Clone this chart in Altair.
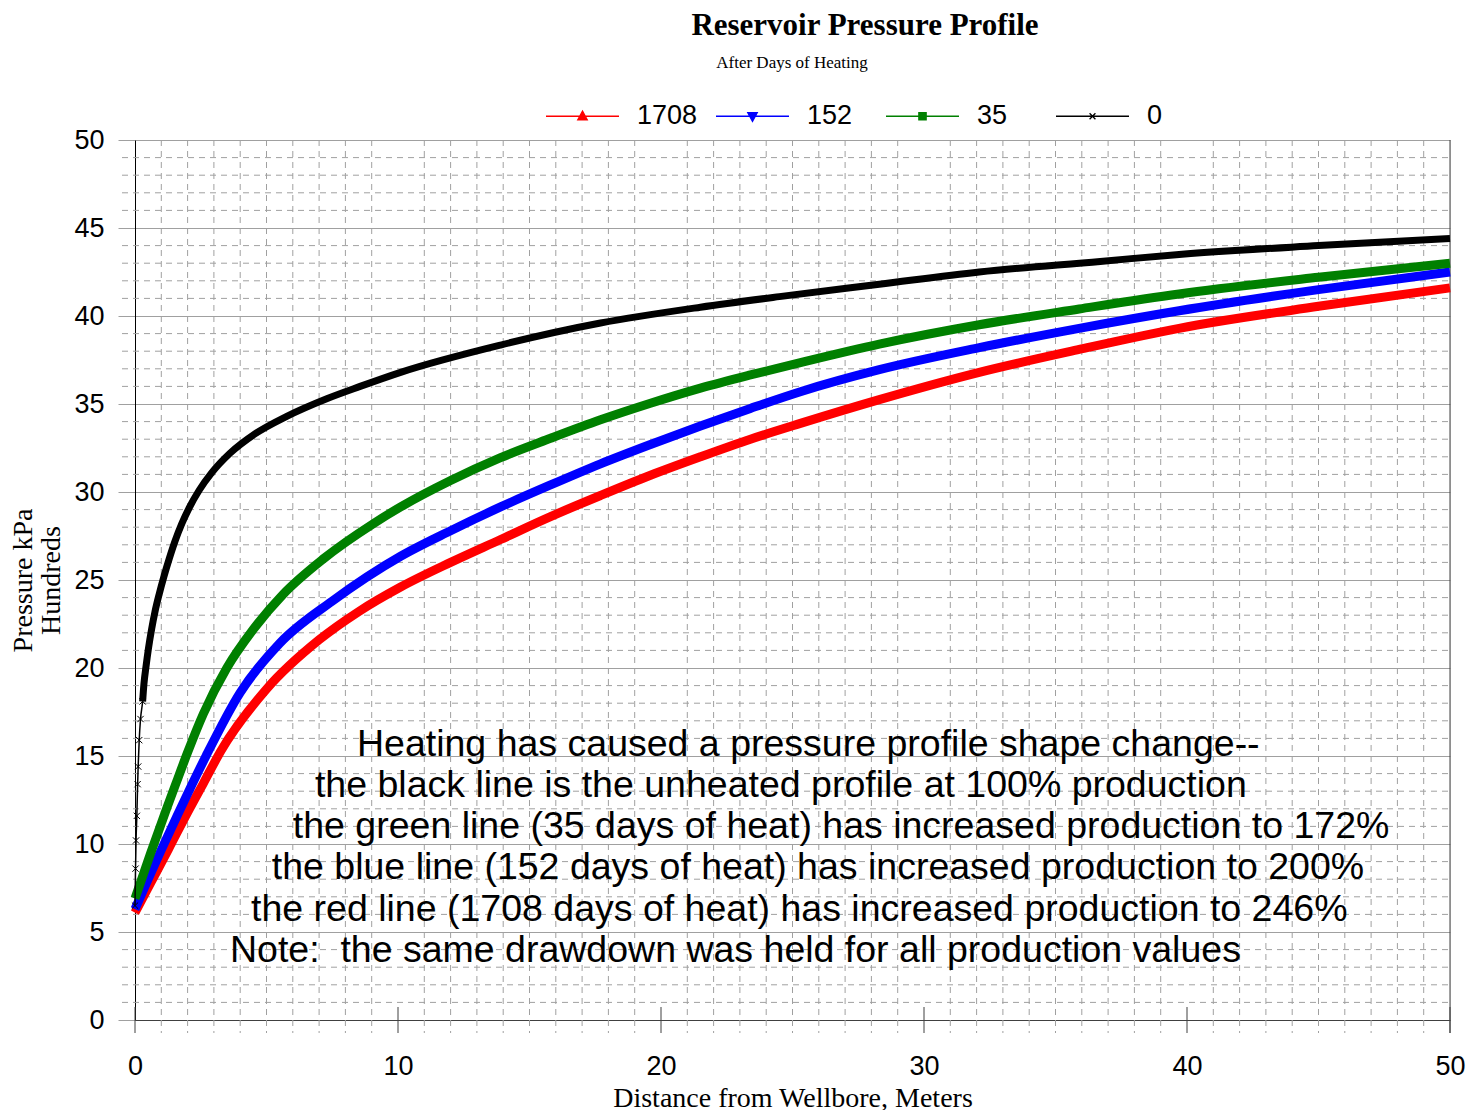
import altair as alt
import pandas as pd

# ---------------- data ----------------
series_names = ["1708", "152", "35", "0"]
series_colors = ["#ff0000", "#0000ff", "#008000", "#000000"]

red_x = [0.0, 0.6, 1.27, 2.0, 2.6, 3.27, 5.0, 7.0, 8.5, 10.1, 12.0, 13.9, 15.8, 17.7, 19.6, 21.5, 23.4, 25.3, 28.3, 32.1, 35.9, 39.7, 45.0, 50.0]
red_y = [6.1, 7.8, 9.7, 11.8, 13.45, 15.3, 18.8, 21.6, 23.2, 24.6, 26.0, 27.3, 28.6, 29.8, 30.95, 32.0, 33.0, 33.9, 35.25, 36.8, 38.1, 39.3, 40.55, 41.6]

blue_x = [0.0, 0.44, 1.01, 1.6, 2.19, 2.7, 4.0, 5.5, 7.5, 10.1, 12.0, 13.9, 15.8, 17.7, 19.6, 21.5, 23.4, 25.3, 28.3, 32.1, 35.9, 39.7, 45.0, 50.0]
blue_y = [6.3, 7.8, 9.7, 11.6, 13.45, 15.0, 18.6, 21.4, 23.8, 26.35, 27.8, 29.15, 30.4, 31.6, 32.7, 33.75, 34.75, 35.7, 36.95, 38.2, 39.3, 40.3, 41.5, 42.5]

green_x = [0.0, 0.6, 1.2, 1.56, 2.0, 2.6, 3.49, 4.5, 5.64, 7.16, 9.06, 10.1, 12.0, 13.9, 15.8, 17.7, 19.6, 21.5, 23.4, 25.3, 28.3, 32.1, 35.9, 39.7, 45.0, 50.0]
green_y = [6.9, 9.5, 12.0, 13.45, 15.2, 17.4, 20.0, 22.2, 24.2, 26.2, 28.2, 29.15, 30.65, 31.95, 33.05, 34.1, 35.04, 35.9, 36.65, 37.35, 38.4, 39.5, 40.4, 41.25, 42.2, 43.0]

black_x = [0.0, 0.02, 0.04, 0.07, 0.10, 0.12, 0.16, 0.21, 0.29, 0.34, 0.42, 0.51, 0.63, 0.76, 0.92, 1.10, 1.30, 1.52, 1.78, 2.06, 2.44, 2.92, 3.61, 4.56, 5.77, 7.29, 8.56, 10.1, 13.9, 17.7, 21.5, 24.5, 28.3, 32.1, 36.7, 39.7, 45.0, 50.0]
black_y = [6.5, 8.6, 10.2, 11.6, 13.4, 14.4, 15.9, 17.1, 18.1, 19.1, 20.1, 21.1, 22.2, 23.2, 24.2, 25.2, 26.2, 27.2, 28.2, 29.1, 30.1, 31.1, 32.2, 33.3, 34.3, 35.3, 36.0, 36.8, 38.35, 39.6, 40.5, 41.1, 41.8, 42.5, 43.1, 43.5, 44.0, 44.4]

note_lines = [
    "Heating has caused a pressure profile shape change--",
    "the black line is the unheated profile at 100% production",
    "the green line (35 days of heat) has increased production to 172%",
    "the blue line (152 days of heat) has increased production to 200%",
    "the red line (1708 days of heat) has increased production to 246%",
    "Note:\u00a0 the same drawdown was held for all production values",
]
note_x = [8.44, 6.84, 6.0, 5.2, 4.41, 3.61]
note_y = [15.6, 13.3, 10.97, 8.64, 6.25, 3.92]

x_major = [0, 10, 20, 30, 40, 50]
y_major = [0, 5, 10, 15, 20, 25, 30, 35, 40, 45, 50]
x_minor = [v for v in range(1, 50) if v % 10 != 0]
y_minor = [v for v in range(1, 50) if v % 5 != 0]

title_text = "Reservoir Pressure Profile"
subtitle_text = "After Days of Heating"
x_title = "Distance from Wellbore, Meters"
y_title = ["Pressure kPa", "Hundreds"]

# ---------------- styling ----------------
W, H = 1315, 880
NUM_FONT = "Liberation Sans"
SERIF = "Liberation Serif"
GRID = "#a0a0a0"

xscale = alt.Scale(domain=[0, 50], nice=False, zero=False)
yscale = alt.Scale(domain=[0, 50], nice=False, zero=False)

series = {
    "1708": (red_x, red_y),
    "152": (blue_x, blue_y),
    "35": (green_x, green_y),
    "0": (black_x, black_y),
}
rows = []
for name in series_names:
    xs, ys = series[name]
    for a, b in zip(xs, ys):
        rows.append({"series": name, "x": a, "y": b})
df = pd.DataFrame(rows)

x_axis = alt.Axis(values=x_major, grid=False, ticks=False, domainColor="#404040",
                  labelFont=NUM_FONT, labelFontSize=27, labelColor="black",
                  labelPadding=33, labelFlush=False, title=x_title, titleFont=SERIF,
                  titleFontSize=28, titleFontWeight="normal", titleColor="black",
                  titlePadding=5)
y_axis = alt.Axis(values=y_major, grid=True, gridColor=GRID, gridWidth=1,
                  tickColor=GRID, tickSize=17, tickWidth=1, domainColor="#000000",
                  labelFont=NUM_FONT, labelFontSize=27, labelColor="black",
                  labelPadding=14, title=y_title, titleFont=SERIF, titleFontSize=28,
                  titleFontWeight="normal", titleColor="black", titlePadding=8,
                  titleLineHeight=28)


def X(field):
    return alt.X(field, scale=xscale, axis=x_axis)


def Y(field):
    return alt.Y(field, scale=yscale, axis=y_axis)


# grid layers
minor_y = alt.Chart(pd.DataFrame({"v": y_minor})).mark_rule(
    color=GRID, strokeDash=[6, 5], strokeWidth=1).encode(
    y=Y("v:Q"), x=alt.value(-13), x2=alt.value(W))
minor_x = alt.Chart(pd.DataFrame({"v": x_minor})).mark_rule(
    color=GRID, strokeDash=[6, 5], strokeWidth=1).encode(
    x=X("v:Q"), y=alt.value(0), y2=alt.value(H + 13))
major_x = alt.Chart(pd.DataFrame({"v": x_major})).mark_rule(
    color="#404040", strokeWidth=1).encode(
    x=X("v:Q"), y=alt.value(H - 13), y2=alt.value(H + 13))
border = alt.Chart(pd.DataFrame({"v": [50]})).mark_rule(
    color="#404040", strokeWidth=1).encode(
    x=X("v:Q"), y=alt.value(0), y2=alt.value(H + 13))

notes = alt.Chart(pd.DataFrame({"t": note_lines, "x": note_x, "y": note_y})).mark_text(
    align="left", baseline="middle", font="Liberation Sans", fontSize=37.5, color="black").encode(
    x=X("x:Q"), y=Y("y:Q"), text="t:N")

# curves
line_layers = []
for name, col in zip(series_names, series_colors):
    base = alt.Chart(df).transform_filter(alt.datum.series == name)
    if name == "0":
        thick = base.transform_filter("datum.x >= 0.29").mark_line(
            color=col, strokeWidth=7, interpolate="monotone")
        thin = base.mark_line(color=col, strokeWidth=1.5, interpolate="monotone")
        marks = base.transform_filter("datum.x < 0.3").mark_point(
            shape="M-1,-1L1,1M-1,1L1,-1", color=col, filled=False, size=40, strokeWidth=1, opacity=1)
        for m in (thin, thick, marks):
            line_layers.append(m.encode(x=X("x:Q"), y=Y("y:Q")))
    else:
        line_layers.append(base.mark_line(color=col, strokeWidth=9, interpolate="monotone").encode(
            x=X("x:Q"), y=Y("y:Q")))

# legend (line + marker symbols)
legend_paths = [
    "M-1,0H1M0,-0.14L0.13,0.1L-0.13,0.1Z",
    "M-1,0H1M-0.13,-0.1L0.13,-0.1L0,0.14Z",
    "M-1,0H1M-0.1,-0.1H0.1V0.1H-0.1Z",
    "M-1,0H1M-0.08,-0.08L0.08,0.08M-0.08,0.08L0.08,-0.08",
]
leg = alt.Legend(orient="none", legendX=410, legendY=-61.5, direction="horizontal",
                 columns=4, title=None, symbolSize=5329, symbolStrokeWidth=1.3,
                 labelFont=NUM_FONT, labelFontSize=27, labelColor="black",
                 labelOffset=17, columnPadding=15, gridAlign="all", padding=0)
legend_layer = alt.Chart(pd.DataFrame({"series": series_names})).transform_filter(
    "false").mark_point(filled=True, opacity=1).encode(
    fill=alt.Fill("series:N", scale=alt.Scale(domain=series_names, range=series_colors), legend=leg),
    stroke=alt.Stroke("series:N", scale=alt.Scale(domain=series_names, range=series_colors), legend=leg),
    shape=alt.Shape("series:N", scale=alt.Scale(domain=series_names, range=legend_paths), legend=leg),
)

title_layer = alt.Chart(pd.DataFrame({"t": [title_text]})).mark_text(
    font=SERIF, fontSize=31, fontWeight="bold", color="black", align="center", baseline="middle").encode(
    text="t:N", x=alt.value(730), y=alt.value(-114))
subtitle_layer = alt.Chart(pd.DataFrame({"t": [subtitle_text]})).mark_text(
    font=SERIF, fontSize=17, color="black", align="center", baseline="middle").encode(
    text="t:N", x=alt.value(657), y=alt.value(-77))

chart = alt.layer(
    minor_y, minor_x, major_x, border, notes, *line_layers, legend_layer, title_layer, subtitle_layer
).properties(
    width=W, height=H,
    padding={"left": 127, "top": 132, "right": 21, "bottom": 92},
    autosize=alt.AutoSizeParams(type="none"),
).configure_view(stroke=None).configure(background="white")

chart.save("out.html", embed_options={"renderer": "svg", "actions": False})
